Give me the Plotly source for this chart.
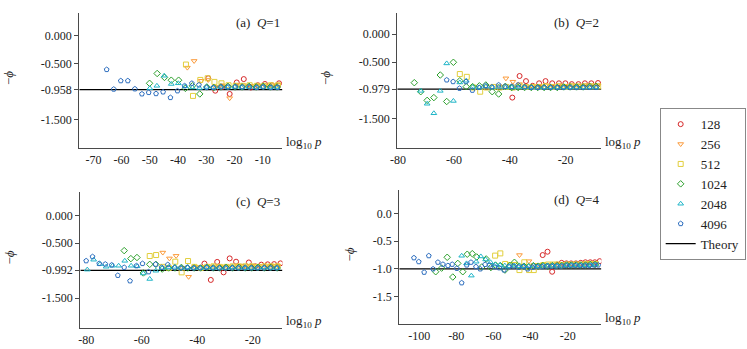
import plotly.graph_objects as go

# ---- data: log10 p (x) and -phi (y) per system size, for each Q ----
sizes = ["128", "256", "512", "1024", "2048", "4096"]
theory = {"a": -0.958, "b": -0.979, "c": -0.992, "d": -1.0}

# (a) Q=1
A_x_128 = [-29.3, -26.8, -24.3, -21.7, -19.2, -16.7, -14.2, -11.7, -9.2, -6.7, -4.2]
A_y_128 = [-0.755, -0.977, -0.91, -1.035, -0.83, -0.77, -0.92, -0.88, -0.857, -0.88, -0.845]
A_x_256 = [-36.7, -34.3, -31.8, -29.3, -26.8, -24.3, -21.7, -19.2, -16.7, -14.2, -11.7, -9.2, -6.7, -4.5]
A_y_256 = [-0.565, -0.446, -0.80, -0.785, -0.91, -0.88, -1.11, -0.87, -0.88, -0.89, -0.89, -0.88, -0.88, -0.87]
A_x_512 = [-37.2, -34.7, -32.1, -29.5, -27.1, -24.6, -22.1, -19.6, -17.1, -14.6, -12.1, -9.6, -7.1, -4.6]
A_y_512 = [-0.51, -1.07, -0.785, -0.755, -0.82, -0.845, -0.88, -0.89, -0.89, -0.88, -0.89, -0.89, -0.88, -0.88]
A_x_1024 = [-50.1, -47.4, -44.8, -42.4, -39.8, -37.4, -34.9, -32.3, -29.8, -27.3, -24.8, -22.3, -19.8,
            -17.3, -14.8, -12.3, -9.8, -7.3, -4.9]
A_y_1024 = [-0.845, -0.67, -0.74, -0.79, -0.79, -0.935, -0.89, -1.035, -0.91, -0.92, -0.91, -0.90, -0.91,
            -0.91, -0.90, -0.91, -0.90, -0.91, -0.91]
A_x_2048 = [-50.0, -47.5, -44.9, -42.4, -39.9, -37.4, -34.9, -32.4, -29.9, -27.4, -24.9, -22.4, -19.9,
            -17.4, -14.9, -12.4, -9.9, -7.4, -5.0]
A_y_2048 = [-0.934, -0.89, -0.71, -0.857, -0.845, -0.90, -0.92, -0.93, -0.91, -0.92, -0.91, -0.92, -0.91,
            -0.92, -0.91, -0.92, -0.91, -0.92, -0.92]
A_x_4096 = [-65.3, -62.8, -60.3, -57.8, -55.3, -52.8, -50.4, -47.8, -45.3, -42.7, -40.2, -37.7, -35.1,
            -32.6, -29.9, -27.5, -24.8, -22.3, -19.7, -17.2, -14.7, -12.1, -9.8, -7.1, -4.7]
A_y_4096 = [-0.60, -0.95, -0.80, -0.80, -0.945, -1.035, -1.01, -1.03, -1.00, -1.10, -0.98, -0.89, -0.845,
            -0.875, -0.92, -0.92, -0.91, -0.91, -0.905, -0.91, -0.91, -0.92, -0.91, -0.92, -0.92]

# (b) Q=2
B_x_128 = [-39.1, -36.5, -34.2, -31.8, -29.5, -27.2, -24.8, -22.4, -20.1, -17.8, -15.4, -13.1, -10.8, -8.4]
B_y_128 = [-1.13, -0.745, -0.836, -0.92, -0.875, -0.836, -0.875, -0.875, -0.875, -0.89, -0.89, -0.875, -0.875, -0.87]
B_x_256 = [-43.9, -41.4, -38.9, -36.5, -34.2, -31.8, -29.5, -27.1, -24.8, -22.4, -20.1, -17.7, -15.4,
           -13.0, -10.7, -8.3]
B_y_256 = [-0.93, -0.786, -0.846, -0.89, -0.93, -0.93, -0.92, -0.91, -0.92, -0.91, -0.92, -0.91, -0.92,
           -0.91, -0.91, -0.91]
B_x_512 = [-57.9, -55.4, -53.1, -50.6, -48.3, -45.9, -43.6, -41.2, -38.9, -36.5, -34.2, -31.8, -29.5,
           -27.1, -24.8, -22.4, -20.1, -17.7, -15.4, -13.0, -10.7, -8.3]
B_y_512 = [-0.71, -0.76, -0.95, -1.025, -0.95, -0.94, -0.95, -0.94, -0.95, -0.93, -0.94, -0.94, -0.94,
           -0.93, -0.94, -0.93, -0.94, -0.93, -0.93, -0.93, -0.93, -0.93]
B_x_1024 = [-74.2, -71.9, -69.6, -67.2, -64.9, -62.6, -60.2, -57.9, -55.6, -53.3, -50.9, -48.6, -46.3,
            -44.0, -41.6, -39.3, -37.0, -34.7, -32.3, -30.0, -27.7, -25.4, -23.0, -20.7, -18.4, -16.1,
            -13.7, -11.4, -9.1]
B_y_1024 = [-0.864, -1.025, -1.18, -1.13, -0.727, -1.20, -0.50, -0.83, -0.935, -0.935, -0.92, -0.905, -1.025,
            -1.066, -0.93, -0.95, -0.95, -0.95, -0.95, -0.95, -0.95, -0.95, -0.95, -0.94, -0.94, -0.94,
            -0.94, -0.93, -0.93]
B_x_2048 = [-71.9, -69.6, -67.2, -64.9, -62.6, -60.2, -57.9, -55.6, -53.3, -50.9, -48.6, -46.3, -44.0,
            -41.6, -39.3, -37.0, -34.7, -32.3, -30.0, -27.7, -25.4, -23.0, -20.7, -18.4, -16.1, -13.7,
            -11.4, -9.1]
B_y_2048 = [-1.01, -1.24, -1.41, -1.01, -0.52, -1.19, -0.86, -0.83, -0.94, -0.95, -0.93, -0.95, -0.94,
            -0.95, -0.95, -0.95, -0.95, -0.95, -0.96, -0.95, -0.95, -0.95, -0.95, -0.95, -0.95, -0.95,
            -0.95, -0.95]
B_x_4096 = [-62.6, -60.3, -58.0, -55.7, -53.4, -51.0, -48.7, -46.4, -44.0, -41.7, -39.3, -37.0, -34.7,
            -32.3, -30.0, -27.7, -25.4, -23.0, -20.7, -18.4, -16.1, -13.7, -11.4, -9.1]
B_y_4096 = [-0.816, -0.846, -0.965, -0.846, -1.0, -0.95, -0.918, -0.94, -0.905, -0.93, -0.93, -0.905, -0.94,
            -0.95, -0.95, -0.95, -0.95, -0.95, -0.95, -0.95, -0.95, -0.95, -0.95, -0.95]

# (c) Q=3
C_x_128 = [-37.4, -35.1, -32.8, -30.5, -28.3, -26.0, -23.7, -21.4, -19.1, -16.9, -14.6, -12.3, -10.0]
C_y_128 = [-0.87, -1.167, -0.84, -1.03, -0.776, -0.836, -0.93, -0.85, -0.92, -0.89, -0.884, -0.88, -0.866]
C_x_256 = [-52.4, -50.0, -47.6, -45.3, -43.1, -40.8, -38.5, -36.2, -33.9, -31.6, -29.3, -27.0, -24.7,
           -22.4, -20.1, -17.8, -15.5, -13.2, -10.9]
C_y_256 = [-0.67, -0.776, -0.73, -0.95, -1.11, -0.93, -0.93, -0.92, -0.92, -0.93, -0.92, -0.92, -0.91,
           -0.92, -0.91, -0.91, -0.92, -0.91, -0.91]
C_x_512 = [-57.1, -54.8, -52.5, -50.2, -47.9, -45.6, -43.3, -41.0, -38.7, -36.4, -34.1, -31.8, -29.5,
           -27.2, -24.9, -22.6, -20.3, -18.0, -15.7, -13.4, -11.1]
C_y_512 = [-0.733, -0.715, -0.93, -0.95, -0.836, -1.03, -0.824, -0.93, -0.95, -0.93, -0.92, -0.93, -0.93,
           -0.92, -0.92, -0.92, -0.92, -0.93, -0.92, -0.92, -0.92]
C_x_1024 = [-66.3, -63.9, -61.7, -59.4, -57.1, -54.9, -52.6, -50.3, -48.0, -45.7, -43.4, -41.1, -38.8,
            -36.5, -34.2, -31.9, -29.6, -27.3, -25.0, -22.7, -20.4, -18.1, -15.8, -13.5, -11.2]
C_y_1024 = [-0.635, -0.78, -0.76, -1.04, -0.884, -0.884, -0.97, -0.95, -0.95, -0.94, -0.95, -0.95, -0.95,
            -0.94, -0.95, -0.95, -0.94, -0.95, -0.94, -0.95, -0.95, -0.94, -0.95, -0.94, -0.95]
C_x_2048 = [-79.6, -77.3, -75.0, -72.8, -70.5, -68.3, -66.1, -63.8, -61.6, -59.4, -57.1, -54.9, -52.6,
            -50.3, -48.0, -45.7, -43.4, -41.1, -38.8, -36.5, -34.2, -31.9, -29.6, -27.3, -25.0, -22.7,
            -20.4, -18.1, -15.8, -13.5, -11.2]
C_y_2048 = [-0.98, -0.80, -0.88, -0.927, -0.91, -0.91, -0.82, -0.91, -0.92, -1.05, -1.15, -1.0, -0.95,
            -0.94, -0.93, -0.95, -0.94, -0.95, -0.95, -0.94, -0.95, -0.95, -0.95, -0.94, -0.95, -0.95,
            -0.95, -0.95, -0.94, -0.95, -0.95]
C_x_4096 = [-80.0, -77.7, -75.3, -73.1, -70.8, -68.6, -66.3, -64.2, -61.9, -59.7, -57.5, -55.0, -52.8,
            -50.6, -48.2, -45.9, -43.6, -41.3, -39.0, -36.7, -34.4, -32.1, -29.8, -27.5, -25.2, -22.9,
            -20.6, -18.3, -16.0, -13.7, -11.4]
C_y_4096 = [-0.82, -0.745, -0.87, -0.88, -0.896, -1.085, -0.94, -1.185, -0.91, -0.87, -1.02, -0.884, -0.94,
            -0.89, -0.945, -0.95, -0.94, -0.95, -0.95, -0.94, -0.95, -0.95, -0.95, -0.95, -0.95, -0.95,
            -0.95, -0.95, -0.95, -0.95, -0.95]

# (d) Q=4
D_x_128 = [-33.5, -30.9, -28.4, -25.8, -23.3, -20.7, -18.2, -15.6, -13.0, -10.5, -7.9, -5.4, -2.8]
D_y_128 = [-0.75, -0.69, -1.05, -0.92, -0.89, -0.90, -0.90, -0.90, -0.89, -0.88, -0.88, -0.88, -0.86]
D_x_256 = [-46.0, -43.4, -40.9, -38.3, -35.8, -33.2, -30.7, -28.1, -25.5, -23.0, -20.4, -17.9, -15.3,
           -12.8, -10.2, -7.6, -5.1]
D_y_256 = [-0.75, -0.94, -0.86, -0.93, -0.93, -0.92, -0.93, -0.92, -0.92, -0.92, -0.92, -0.91, -0.91,
           -0.91, -0.91, -0.90, -0.90]
D_x_512 = [-59.1, -56.3, -53.7, -51.1, -48.5, -46.0, -43.4, -40.8, -38.3, -35.7, -33.1, -30.6, -28.0,
           -25.4, -22.9, -20.3, -17.7, -15.2, -12.6, -10.0, -7.5, -4.9]
D_y_512 = [-0.76, -0.72, -0.91, -0.93, -0.93, -1.02, -0.88, -1.02, -1.02, -0.95, -0.93, -0.92, -0.92,
           -0.92, -0.93, -0.92, -0.92, -0.92, -0.92, -0.91, -0.91, -0.91]
D_x_1024 = [-91.1, -87.9, -84.9, -81.9, -79.2, -76.5, -74.1, -71.4, -69.0, -66.3, -63.9, -61.4, -58.9,
            -56.3, -53.8, -51.2, -48.7, -46.1, -43.6, -41.0, -38.5, -35.9, -33.4, -30.8, -28.3, -25.7,
            -23.2, -20.6, -18.1, -15.5, -13.0, -10.4, -7.9, -5.3]
D_y_1024 = [-1.05, -0.985, -0.79, -1.145, -0.90, -1.05, -0.735, -0.725, -0.785, -0.965, -0.82, -0.975, -0.93,
            -0.94, -1.02, -0.94, -0.88, -0.95, -0.95, -0.96, -0.94, -0.95, -0.94, -0.95, -0.94, -0.94,
            -0.94, -0.93, -0.93, -0.93, -0.93, -0.93, -0.92, -0.92]
D_x_2048 = [-77.1, -74.5, -71.9, -69.3, -66.8, -64.2, -61.6, -59.0, -56.5, -53.9, -51.3, -48.7, -46.2,
            -43.6, -41.0, -38.4, -35.9, -33.3, -30.7, -28.1, -25.6, -23.0, -20.4, -17.8, -15.3, -12.7,
            -10.1, -7.5, -5.0]
D_y_2048 = [-0.763, -0.90, -1.12, -0.87, -0.775, -0.83, -0.88, -0.92, -0.93, -0.94, -0.95, -0.94, -0.95,
            -0.95, -0.95, -0.94, -0.95, -0.94, -0.94, -0.94, -0.94, -0.94, -0.93, -0.93, -0.93, -0.93,
            -0.93, -0.93, -0.92]
D_x_4096 = [-102.8, -100.2, -97.3, -94.8, -92.5, -89.9, -87.2, -84.5, -82.2, -79.7, -77.1, -74.4, -72.1,
            -69.4, -67.1, -64.5, -62.0, -59.4, -56.9, -54.3, -51.8, -49.2, -46.7, -44.1, -41.6, -39.0,
            -36.5, -33.9, -31.4, -28.8, -26.3, -23.7, -21.2, -18.6, -16.1, -13.5, -11.0, -8.4, -5.9, -3.6]
D_y_4096 = [-0.80, -0.87, -1.06, -0.763, -1.0, -0.88, -0.917, -0.94, -0.917, -0.99, -1.25, -0.93, -0.88,
            -0.96, -1.0, -0.92, -0.93, -0.96, -0.98, -1.02, -0.96, -0.95, -0.97, -0.96, -1.0, -0.97,
            -0.96, -0.96, -0.95, -0.95, -0.95, -0.95, -0.94, -0.94, -0.94, -0.94, -0.94, -0.94, -0.93, -0.93]

panels = {
    "a": [(A_x_128, A_y_128), (A_x_256, A_y_256), (A_x_512, A_y_512),
          (A_x_1024, A_y_1024), (A_x_2048, A_y_2048), (A_x_4096, A_y_4096)],
    "b": [(B_x_128, B_y_128), (B_x_256, B_y_256), (B_x_512, B_y_512),
          (B_x_1024, B_y_1024), (B_x_2048, B_y_2048), (B_x_4096, B_y_4096)],
    "c": [(C_x_128, C_y_128), (C_x_256, C_y_256), (C_x_512, C_y_512),
          (C_x_1024, C_y_1024), (C_x_2048, C_y_2048), (C_x_4096, C_y_4096)],
    "d": [(D_x_128, D_y_128), (D_x_256, D_y_256), (D_x_512, D_y_512),
          (D_x_1024, D_y_1024), (D_x_2048, D_y_2048), (D_x_4096, D_y_4096)],
}
q_labels = {"a": "1", "b": "2", "c": "3", "d": "4"}

# ---- style ----
colors = ["#d62728", "#fb9a3a", "#e2cf3c", "#2ca02c", "#1fb5c8", "#2f6fbf"]
symbols = ["circle-open", "triangle-down-open", "square-open", "diamond-open",
           "triangle-up-open", "pentagon-open"]
FONT = "Liberation Serif"
AX_COLOR = "#4a4a4a"

# axis layout per panel
axes = {
    "a": dict(xd=[0.0977, 0.3722], yd=[0.5759, 0.9628], xr=[-75, -3], yr=[-2.0, 0.41],
              xt=[-70, -60, -50, -40, -30, -20, -10],
              yt=[0, -0.5, -0.958, -1.5], ytt=["0.000", "-0.500", "-0.958", "-1.500"]),
    "b": dict(xd=[0.5274, 0.8032], yd=[0.5759, 0.9628], xr=[-80.3, -7.2], yr=[-2.03, 0.38],
              xt=[-80, -60, -40, -20],
              yt=[0, -0.5, -0.979, -1.5], ytt=["0.000", "-0.500", "-0.979", "-1.500"]),
    "c": dict(xd=[0.0991, 0.3722], yd=[0.0602, 0.4499], xr=[-82.1, -9.3], yr=[-2.04, 0.43],
              xt=[-80, -60, -40, -20],
              yt=[0, -0.5, -0.992, -1.5], ytt=["0.000", "-0.500", "-0.992", "-1.500"]),
    "d": dict(xd=[0.5301, 0.8032], yd=[0.0716, 0.4556], xr=[-110.7, -1.9], yr=[-1.99, 0.42],
              xt=[-100, -80, -60, -40, -20],
              yt=[0, -0.5, -1.0, -1.5], ytt=["0.0", "-0.5", "-1.0", "-1.5"]),
}

fig = go.Figure()
layout = {}
annotations = []

for i, key in enumerate(["a", "b", "c", "d"]):
    n = i + 1
    xa = "x" if n == 1 else f"x{n}"
    ya = "y" if n == 1 else f"y{n}"
    ax = axes[key]

    # theory line across the panel
    fig.add_trace(go.Scatter(
        x=ax["xr"], y=[theory[key], theory[key]], xaxis=xa, yaxis=ya,
        mode="lines", line=dict(color="black", width=1.3),
        name="Theory", legendrank=7, showlegend=(n == 1), hoverinfo="skip"))

    for j, (xs, ys) in enumerate(panels[key]):
        fig.add_trace(go.Scatter(
            x=xs, y=ys, xaxis=xa, yaxis=ya, mode="markers",
            marker=dict(symbol=symbols[j], size=5, color=colors[j],
                        line=dict(width=1, color=colors[j])),
            name=sizes[j], legendrank=j + 1, showlegend=(n == 1)))

    xname = "xaxis" if n == 1 else f"xaxis{n}"
    yname = "yaxis" if n == 1 else f"yaxis{n}"
    layout[xname] = dict(
        domain=ax["xd"], range=ax["xr"], anchor=ya, showgrid=False, zeroline=False,
        showline=True, linecolor=AX_COLOR, linewidth=1.3,
        tickvals=ax["xt"], ticktext=[str(v) for v in ax["xt"]], ticks="",
        tickfont=dict(family=FONT, size=12, color="#222"))
    layout[yname] = dict(
        domain=ax["yd"], range=ax["yr"], anchor=xa, showgrid=False, zeroline=False,
        showline=True, linecolor=AX_COLOR, linewidth=1.3,
        tickvals=ax["yt"], ticktext=ax["ytt"],
        ticks="outside", ticklen=4, tickcolor=AX_COLOR,
        tickfont=dict(family=FONT, size=12, color="#222"))

    # panel label
    annotations.append(dict(
        xref=f"{xa} domain", yref=f"{ya} domain", x=1, y=1, xanchor="right", yanchor="top",
        text=f"({key})\u00a0\u00a0<i>Q</i>={q_labels[key]}", showarrow=False,
        font=dict(family=FONT, size=13, color="#222")))
    # x label
    annotations.append(dict(
        xref=f"{xa} domain", yref=f"{ya} domain", x=1, y=0, xanchor="left", yanchor="middle",
        xshift=2, yshift=6, text="log<sub>10</sub> <i>p</i>", showarrow=False,
        font=dict(family=FONT, size=13, color="#222")))
    # y label
    yl_shift = -50 if key == "d" else -71
    annotations.append(dict(
        xref=f"{xa} domain", yref=f"{ya} domain", x=0, y=0.52, xanchor="center", yanchor="middle",
        xshift=yl_shift, text="\u2212<i>\u03d5</i>", textangle=-90, showarrow=False,
        font=dict(family=FONT, size=13, color="#222")))

fig.update_layout(
    **layout,
    annotations=annotations,
    width=747, height=349,
    margin=dict(l=0, r=0, t=0, b=0),
    paper_bgcolor="white", plot_bgcolor="white",
    font=dict(family=FONT, size=12, color="#222"),
    legend=dict(x=0.882, y=0.69, xanchor="left", yanchor="top",
                bordercolor="#888", borderwidth=1, bgcolor="white",
                font=dict(family=FONT, size=13, color="#222"),
                tracegroupgap=0, itemwidth=30),
    showlegend=True,
)

# drop the default page margin so the figure sits at the top-left corner
fig.write_html("out.html", config={"displayModeBar": False},
               post_script="document.body.style.margin='0';")
